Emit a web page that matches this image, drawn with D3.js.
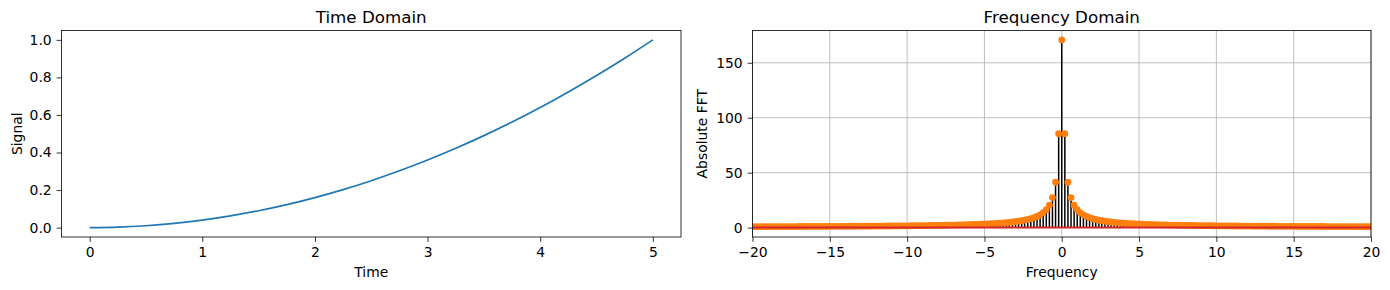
<!DOCTYPE html>
<html>
<head>
<meta charset="utf-8">
<script src="https://cdn.jsdelivr.net/npm/d3@7"></script>
<style>
  body { margin: 0; background: #fff; }
  svg text { font-family: "DejaVu Sans", sans-serif; fill: #000; }
</style>
</head>
<body>
<div id="chart"></div>
<script>
// Time domain samples
const timeT = [0, 0.25, 0.5, 0.75, 1, 1.25, 1.5, 1.75, 2, 2.25, 2.5, 2.75, 3, 3.25, 3.5, 3.75, 4, 4.25, 4.5, 4.75, 5];
const timeSignal = [0, 0.0025, 0.01, 0.0225, 0.04, 0.0625, 0.09, 0.1225, 0.16, 0.2025, 0.25, 0.3025, 0.36, 0.4225, 0.49, 0.5625, 0.64, 0.7225, 0.81, 0.9025, 1.0];

// Positive frequency bins; the magnitude spectrum is mirrored for the negative bins
const binFreq = [0, 0.20, 0.40, 0.60, 0.80, 1.00, 1.20, 1.40, 1.60, 1.80,
  2.00, 2.20, 2.40, 2.59, 2.79, 2.99, 3.19, 3.39, 3.59, 3.79,
  3.99, 4.19, 4.39, 4.59, 4.79, 4.99, 5.19, 5.39, 5.59, 5.79,
  5.99, 6.19, 6.39, 6.59, 6.79, 6.99, 7.19, 7.39, 7.58, 7.78,
  7.98, 8.18, 8.38, 8.58, 8.78, 8.98, 9.18, 9.38, 9.58, 9.78,
  9.98, 10.18, 10.38, 10.58, 10.78, 10.98, 11.18, 11.38, 11.58, 11.78,
  11.98, 12.18, 12.38, 12.57, 12.77, 12.97, 13.17, 13.37, 13.57, 13.77,
  13.97, 14.17, 14.37, 14.57, 14.77, 14.97, 15.17, 15.37, 15.57, 15.77,
  15.97, 16.17, 16.37, 16.57, 16.77, 16.97, 17.17, 17.37, 17.56, 17.76,
  17.96, 18.16, 18.36, 18.56, 18.76, 18.96, 19.16, 19.36, 19.56, 19.76,
  19.96];
const binMag = [170.83, 85.52, 41.26, 27.32, 20.44, 16.33, 13.60, 11.66, 10.20, 9.06,
  8.16, 7.42, 6.80, 6.28, 5.83, 5.44, 5.10, 4.80, 4.54, 4.30,
  4.08, 3.89, 3.72, 3.55, 3.41, 3.27, 3.15, 3.03, 2.92, 2.82,
  2.73, 2.64, 2.56, 2.49, 2.41, 2.35, 2.28, 2.22, 2.16, 2.11,
  2.06, 2.01, 1.96, 1.92, 1.87, 1.83, 1.80, 1.76, 1.72, 1.69,
  1.66, 1.62, 1.59, 1.56, 1.54, 1.51, 1.48, 1.46, 1.44, 1.41,
  1.39, 1.37, 1.35, 1.33, 1.31, 1.29, 1.27, 1.25, 1.23, 1.22,
  1.20, 1.18, 1.17, 1.15, 1.14, 1.13, 1.11, 1.10, 1.09, 1.07,
  1.06, 1.05, 1.04, 1.03, 1.01, 1.00, 0.99, 0.98, 0.97, 0.96,
  0.95, 0.94, 0.93, 0.93, 0.92, 0.91, 0.90, 0.89, 0.88, 0.88,
  0.87];

const timeTicks = [0, 1, 2, 3, 4, 5];
const signalTicks = [0, 0.2, 0.4, 0.6, 0.8, 1.0];
const freqTicks = [-20, -15, -10, -5, 0, 5, 10, 15, 20];
const fftTicks = [0, 50, 100, 150];

const spectrum = [];
binFreq.forEach((f, i) => {
  spectrum.push({ f: f, m: binMag[i] });
  if (f > 0) spectrum.push({ f: -f, m: binMag[i] });
});
spectrum.sort((a, b) => a.f - b.f);

const W = 1390, H = 290;
const fontTick = 13.9, fontTitle = 16.7;

const svg = d3.select("#chart").append("svg")
  .attr("width", W).attr("height", H);

function styleAxis(g) {
  g.select(".domain").remove();
  g.selectAll(".tick line").attr("stroke", "#000").attr("stroke-width", 0.8);
  g.selectAll(".tick text").attr("font-size", fontTick)
    .attr("font-family", "DejaVu Sans, sans-serif").attr("fill", "#000");
  g.attr("font-size", null).attr("font-family", null);
}

// ---------- Left panel: time domain ----------
const L = { x0: 61.5, x1: 681, y0: 30.5, y1: 237 };
const xT = d3.scaleLinear().domain([-0.25, 5.25]).range([L.x0, L.x1]);
const yT = d3.scaleLinear().domain([-0.05, 1.05]).range([L.y1, L.y0]);

svg.append("g").attr("transform", `translate(0,${L.y1})`)
  .call(d3.axisBottom(xT).tickValues(timeTicks).tickFormat(d3.format("d"))
    .tickSize(4.9).tickPadding(4.9))
  .call(styleAxis);
svg.append("g").attr("transform", `translate(${L.x0},0)`)
  .call(d3.axisLeft(yT).tickValues(signalTicks).tickFormat(d3.format(".1f"))
    .tickSize(4.9).tickPadding(4.9))
  .call(styleAxis);

const line = d3.line()
  .x((d, i) => xT(timeT[i]))
  .y(d => yT(d))
  .curve(d3.curveCatmullRom.alpha(0.5));
svg.append("path").datum(timeSignal)
  .attr("d", line)
  .attr("fill", "none")
  .attr("stroke", "#1f77b4")
  .attr("stroke-width", 1.7);

svg.append("rect")
  .attr("x", L.x0).attr("y", L.y0)
  .attr("width", L.x1 - L.x0).attr("height", L.y1 - L.y0)
  .attr("fill", "none").attr("stroke", "#000").attr("stroke-width", 0.8);

svg.append("text").attr("x", (L.x0 + L.x1) / 2).attr("y", 23)
  .attr("text-anchor", "middle").attr("font-size", fontTitle).text("Time Domain");
svg.append("text").attr("x", (L.x0 + L.x1) / 2).attr("y", 277)
  .attr("text-anchor", "middle").attr("font-size", fontTick).text("Time");
svg.append("text")
  .attr("transform", `translate(22,${(L.y0 + L.y1) / 2}) rotate(-90)`)
  .attr("text-anchor", "middle").attr("font-size", fontTick).text("Signal");

// ---------- Right panel: frequency domain ----------
const R = { x0: 752.5, x1: 1371, y0: 30.5, y1: 237 };
const xF = d3.scaleLinear().domain([-20, 20]).range([R.x0, R.x1]);
const yF = d3.scaleLinear().domain([-8.54, 179.37]).range([R.y1, R.y0]);

svg.append("defs").append("clipPath").attr("id", "clipR")
  .append("rect").attr("x", R.x0).attr("y", R.y0)
  .attr("width", R.x1 - R.x0).attr("height", R.y1 - R.y0);

// grid
const grid = svg.append("g");
grid.selectAll(".gx").data(freqTicks).enter().append("line")
  .attr("x1", d => xF(d)).attr("x2", d => xF(d))
  .attr("y1", R.y0).attr("y2", R.y1)
  .attr("stroke", "#b0b0b0").attr("stroke-width", 0.8);
grid.selectAll(".gy").data(fftTicks).enter().append("line")
  .attr("x1", R.x0).attr("x2", R.x1)
  .attr("y1", d => yF(d)).attr("y2", d => yF(d))
  .attr("stroke", "#b0b0b0").attr("stroke-width", 0.8);

const plot = svg.append("g").attr("clip-path", "url(#clipR)");
plot.selectAll(".stem").data(spectrum).enter().append("line")
  .attr("x1", d => xF(d.f)).attr("x2", d => xF(d.f))
  .attr("y1", yF(0)).attr("y2", d => yF(d.m))
  .attr("stroke", "#000").attr("stroke-width", 1.5);
plot.selectAll(".mk").data(spectrum).enter().append("circle")
  .attr("cx", d => xF(d.f)).attr("cy", d => yF(d.m))
  .attr("r", 3.4).attr("fill", "#ff7f0e");
plot.append("line")
  .attr("x1", R.x0).attr("x2", R.x1)
  .attr("y1", yF(0)).attr("y2", yF(0))
  .attr("stroke", "#d62728").attr("stroke-width", 2);

svg.append("g").attr("transform", `translate(0,${R.y1})`)
  .call(d3.axisBottom(xF).tickValues(freqTicks).tickSize(4.9).tickPadding(4.9))
  .call(styleAxis);
svg.append("g").attr("transform", `translate(${R.x0},0)`)
  .call(d3.axisLeft(yF).tickValues(fftTicks).tickSize(4.9).tickPadding(4.9))
  .call(styleAxis);

svg.append("rect")
  .attr("x", R.x0).attr("y", R.y0)
  .attr("width", R.x1 - R.x0).attr("height", R.y1 - R.y0)
  .attr("fill", "none").attr("stroke", "#000").attr("stroke-width", 0.8);

svg.append("text").attr("x", (R.x0 + R.x1) / 2).attr("y", 23)
  .attr("text-anchor", "middle").attr("font-size", fontTitle).text("Frequency Domain");
svg.append("text").attr("x", (R.x0 + R.x1) / 2).attr("y", 277)
  .attr("text-anchor", "middle").attr("font-size", fontTick).text("Frequency");
svg.append("text")
  .attr("transform", `translate(707,${(R.y0 + R.y1) / 2}) rotate(-90)`)
  .attr("text-anchor", "middle").attr("font-size", fontTick).text("Absolute FFT");
</script>
</body>
</html>
